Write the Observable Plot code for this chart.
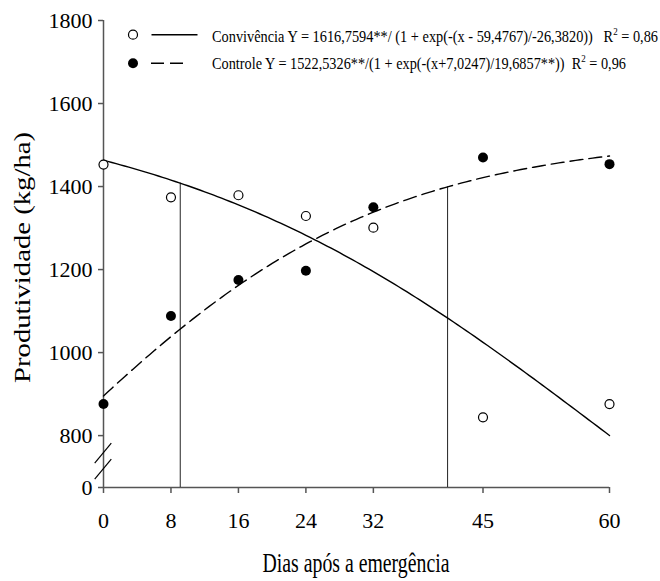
<!DOCTYPE html>
<html><head><meta charset="utf-8">
<script src="https://cdn.jsdelivr.net/npm/d3@7"></script>
<script src="https://cdn.jsdelivr.net/npm/@observablehq/plot@0.6"></script>
<style>body{margin:0;background:#fff} svg{display:block}</style>
</head><body><div id="chart"></div>
<script>
// ---- data ----
const days = [0, 8, 16, 24, 32, 45, 60];
const convivencia = [1453, 1374, 1379, 1329, 1301, 844, 876];
const controle = [876, 1088, 1175, 1197, 1350, 1470, 1454];
const xTicks = [0, 8, 16, 24, 32, 45, 60];
const yTicks = [0, 800, 1000, 1200, 1400, 1600, 1800];
// fitted sigmoid models stated in the legend: Y = a / (1 + exp(-(x - x0)/b))
const convModel = {a: 1616.7594, x0: 59.4767, b: -26.3820};
const ctrlModel = {a: 1522.5326, x0: -7.0247, b: 19.6857};
// vertical reference lines (days)
const criticalDays = [9.1, 40.8];
const criticalModel = ["conv", "ctrl"];
const legendNames = ["Convivência", "Controle"];
const legendEquations = [
  "Y = 1616,7594**/ (1 + exp(-(x - 59,4767)/-26,3820))   R",
  "Y = 1522,5326**/(1 + exp(-(x+7,0247)/19,6857**))  R"
];
const legendR2 = ["0,86", "0,96"];
const xLabel = "Dias após a emergência";
const yLabel = "Produtividade (kg/ha)";

// broken y axis: the 0–800 segment is drawn compressed
const breakAt = 800, breakK = 0.15625;
const yBreak = v => v < breakAt ? breakAt - (breakAt - v) * breakK : v;
const yUnbreak = d => d < breakAt ? breakAt - (breakAt - d) / breakK : d;

const sig = (m, x) => m.a / (1 + Math.exp(-(x - m.x0) / m.b));
const models = {conv: convModel, ctrl: ctrlModel};
const xs = d3.range(0, 60.0001, 0.5);
const convCurve = xs.map(x => ({x, y: yBreak(sig(convModel, x))}));
const ctrlCurve = xs.map(x => ({x, y: yBreak(sig(ctrlModel, x))}));
const convPts = days.map((d, i) => ({x: d, y: yBreak(convivencia[i])}));
const ctrlPts = days.map((d, i) => ({x: d, y: yBreak(controle[i])}));
const critRows = criticalDays.map((d, i) => ({x: d, y: yBreak(sig(models[criticalModel[i]], d))}));
const y0 = yBreak(0), yTop = yBreak(1800);

const serif = "Liberation Serif, Times New Roman, serif";
const axisColor = "#555";
const chart = Plot.plot({
  width: 660, height: 581,
  marginLeft: 103, marginRight: 51, marginTop: 20, marginBottom: 94,
  style: {fontFamily: serif, fontSize: "22px", color: "#000", background: "#fff"},
  x: {domain: [0, 60]},
  y: {domain: [y0, yTop]},
  marks: [
    Plot.ruleY([y0], {x1: 0, x2: 60, stroke: axisColor, strokeWidth: 1.5}),
    Plot.ruleX([0], {y1: y0, y2: yTop, stroke: axisColor, strokeWidth: 1.5}),
    Plot.axisX({ticks: xTicks, tickSize: 6, tickPadding: 19, stroke: axisColor, strokeWidth: 1.5, label: null, fontSize: 22, fontFamily: serif, tickFormat: d => String(d)}),
    Plot.axisY({ticks: yTicks.map(yBreak), tickSize: 5, tickPadding: 6, stroke: axisColor, strokeWidth: 1.5, label: null, fontSize: 22, fontFamily: serif, tickFormat: d => String(Math.round(yUnbreak(d)))}),
    Plot.ruleX(critRows, {x: "x", y1: y0, y2: "y", stroke: "#222", strokeWidth: 1}),
    Plot.line(convCurve, {x: "x", y: "y", stroke: "#000", strokeWidth: 1.4}),
    Plot.line(ctrlCurve, {x: "x", y: "y", stroke: "#000", strokeWidth: 1.4, strokeDasharray: "13,6"}),
    Plot.dot(convPts, {x: "x", y: "y", r: 4.5, fill: "#fff", stroke: "#000", strokeWidth: 1.2}),
    Plot.dot(ctrlPts, {x: "x", y: "y", r: 5, fill: "#000"})
  ]
});
document.getElementById("chart").appendChild(chart);

// ---- decorations: axis break, titles, legend ----
const svg = d3.select(chart);
const yS = chart.scale("y");
const xS = chart.scale("x");
const ax = xS.apply(0);
const mid = (yS.apply(y0) + yS.apply(breakAt)) / 2;
[-8, 8].forEach(o => {
  svg.append("line").attr("x1", ax - 8.3).attr("y1", mid + o + 10)
    .attr("x2", ax + 8.3).attr("y2", mid + o - 10)
    .attr("stroke", "#000").attr("stroke-width", 1.2);
});

svg.append("text").attr("x", 356).attr("y", 572).attr("text-anchor", "middle")
  .attr("font-family", serif).attr("font-size", 27).attr("fill", "#000")
  .attr("textLength", 187).attr("lengthAdjust", "spacingAndGlyphs").text(xLabel);
svg.append("text").attr("transform", "translate(30,257.5) rotate(-90)").attr("text-anchor", "middle")
  .attr("font-family", serif).attr("font-size", 24).attr("fill", "#000")
  .attr("textLength", 251).attr("lengthAdjust", "spacingAndGlyphs").text(yLabel);

const legY = [34.7, 63.3];
const legBase = [41.5, 69];
const legLen = [446, 414];
legendNames.forEach((name, i) => {
  const g = svg.append("g");
  if (i === 0) {
    g.append("circle").attr("cx", 133).attr("cy", legY[i]).attr("r", 4.5).attr("fill", "#fff").attr("stroke", "#000").attr("stroke-width", 1.2);
    g.append("line").attr("x1", 151.5).attr("x2", 197.5).attr("y1", legY[i]).attr("y2", legY[i]).attr("stroke", "#000").attr("stroke-width", 1.4);
  } else {
    g.append("circle").attr("cx", 133).attr("cy", legY[i]).attr("r", 5).attr("fill", "#000");
    g.append("line").attr("x1", 151).attr("x2", 184).attr("y1", legY[i]).attr("y2", legY[i]).attr("stroke", "#000").attr("stroke-width", 1.4).attr("stroke-dasharray", "13,6");
  }
  const t = g.append("text").attr("x", 212).attr("y", legBase[i]).attr("font-family", serif)
    .attr("text-anchor", "start")
    .attr("font-size", 17.5).attr("fill", "#000").style("white-space", "pre")
    .attr("textLength", legLen[i]).attr("lengthAdjust", "spacingAndGlyphs");
  t.append("tspan").text(name + " " + legendEquations[i]);
  t.append("tspan").attr("dy", -7).attr("font-size", 11).text("2");
  t.append("tspan").attr("dy", 7).text(" = " + legendR2[i]);
});
</script></body></html>
